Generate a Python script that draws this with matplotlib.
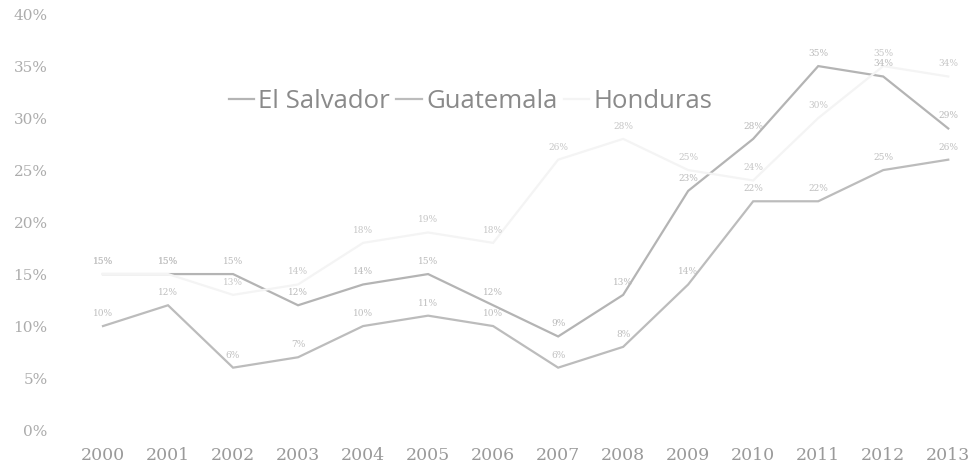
import matplotlib
matplotlib.use('Agg')
import matplotlib.pyplot as plt
from matplotlib.ticker import FuncFormatter

years = [2000, 2001, 2002, 2003, 2004, 2005, 2006, 2007, 2008, 2009, 2010, 2011, 2012, 2013]
el_salvador = [15, 15, 15, 12, 14, 15, 12, 9, 13, 23, 28, 35, 34, 29]
guatemala = [10, 12, 6, 7, 10, 11, 10, 6, 8, 14, 22, 22, 25, 26]
honduras = [15, 15, 13, 14, 18, 19, 18, 26, 28, 25, 24, 30, 35, 34]

series_names = ['El Salvador', 'Guatemala', 'Honduras']
series_values = [el_salvador, guatemala, honduras]
line_colors = ['#b4b4b4', '#bcbcbc', '#f4f4f4']
label_colors = ['#bababa', '#bfbfbf', '#c6c6c6']

fig = plt.figure(figsize=(9.7, 4.7), dpi=100)
ax = fig.add_axes([0.072, 0.085, 0.923, 0.885])

x = list(range(len(years)))
for name, vals, lc, tc in zip(series_names, series_values, line_colors, label_colors):
    ax.plot(x, vals, color=lc, lw=1.6, label=name, solid_joinstyle='miter')
    for xi, v in zip(x, vals):
        ax.annotate(f'{v}%', (xi, v), textcoords='offset points', xytext=(0, 9),
                    ha='center', va='center', fontsize=6.5, color=tc,
                    family='DejaVu Serif')

ax.set_xlim(-0.51, 13.26)
ax.set_ylim(0, 40)
ax.set_yticks(range(0, 41, 5))
ax.yaxis.set_major_formatter(FuncFormatter(lambda v, p: f'{int(v)}%'))
ax.set_xticks(x)
ax.set_xticklabels([str(y) for y in years])
for s in ax.spines.values():
    s.set_visible(False)
ax.tick_params(length=0)
ax.tick_params(axis='y', pad=16, labelsize=11, labelcolor='#acacac')
ax.tick_params(axis='x', pad=12, labelsize=12.5, labelcolor='#9a9a9a')
for lbl in ax.get_xticklabels() + ax.get_yticklabels():
    lbl.set_family('DejaVu Serif')

leg = ax.legend(loc='center', bbox_to_anchor=(0.485, 0.783), bbox_transform=fig.transFigure,
                ncol=3, frameon=False, handlelength=1.0, handletextpad=0.15,
                columnspacing=0.25, prop={'family': 'Open Sans', 'size': 18.5})
for t in leg.get_texts():
    t.set_color('#8a8a8a')

fig.savefig('out.png', dpi=100, facecolor='white')
